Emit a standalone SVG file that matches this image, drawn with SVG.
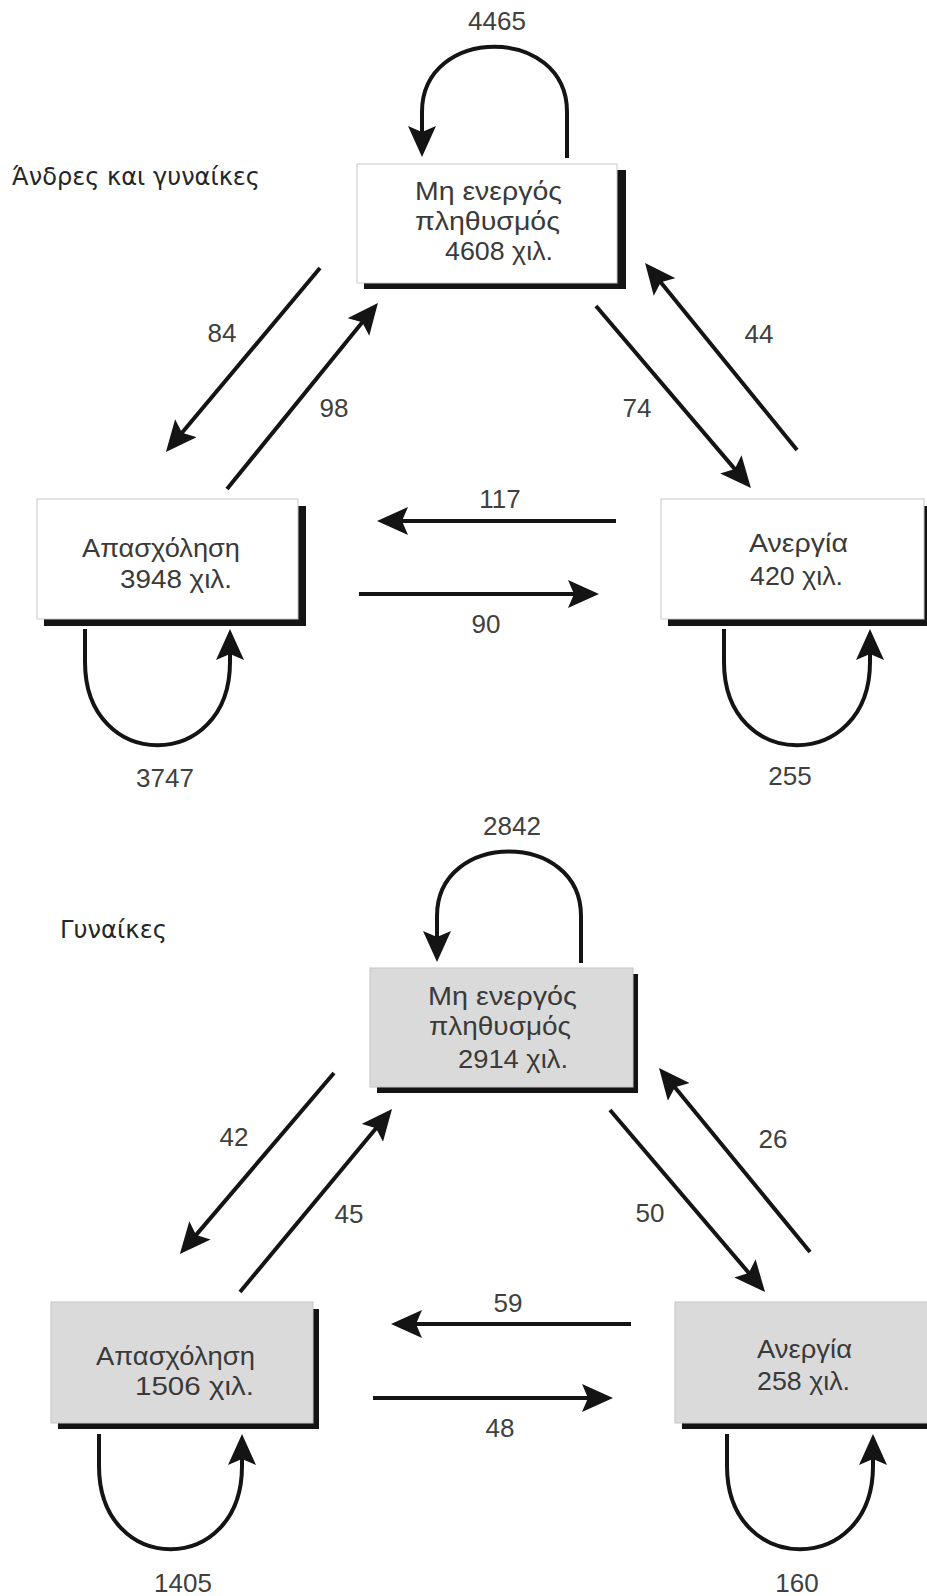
<svg xmlns="http://www.w3.org/2000/svg" width="927" height="1596" viewBox="0 0 927 1596">
<style>
.bg{fill:#ffffff}
.shadow{fill:#141414}
.boxw{fill:#ffffff;stroke:#c8c8c8;stroke-width:1}
.boxg{fill:#dadada;stroke:#c4c4c4;stroke-width:1}
.t{font-family:"Liberation Sans",Arial,sans-serif;font-size:25px;fill:#3a3a3a}
.lbl{font-family:"Liberation Sans",Arial,sans-serif;font-size:26px;fill:#404040;text-anchor:middle}
.title{font-family:"DejaVu Sans","Open Sans",sans-serif;font-size:24px;fill:#262626}
.c{fill:none;stroke:#141414;stroke-width:4;marker-end:url(#ah)}
</style>
<defs>
<marker id="ah" markerUnits="userSpaceOnUse" markerWidth="32" markerHeight="28" refX="20" refY="14" orient="auto" viewBox="0 0 32 28">
<path d="M0,0 L31,14 L0,28 L6,14 z" fill="#141414"/>
</marker>
</defs>
<rect class="bg" x="0" y="0" width="927" height="1596"/>

<text class="title" x="12" y="185" textLength="248" lengthAdjust="spacingAndGlyphs">Άνδρες και γυναίκες</text>
<text class="title" x="60" y="938" textLength="107" lengthAdjust="spacingAndGlyphs">Γυναίκες</text>

<g id="m-inactive">
<rect class="shadow" x="364" y="170" width="262" height="119"/>
<rect class="boxw" x="357" y="164" width="260" height="119"/>
<text class="t" x="415" y="200" textLength="147" lengthAdjust="spacingAndGlyphs">Μη ενεργός</text>
<text class="t" x="415" y="230" textLength="145" lengthAdjust="spacingAndGlyphs">πληθυσμός</text>
<text class="t" x="445" y="260" textLength="108" lengthAdjust="spacingAndGlyphs">4608 χιλ.</text>
</g>
<g id="m-employment">
<rect class="shadow" x="44" y="506" width="262" height="120"/>
<rect class="boxw" x="37" y="499" width="261" height="120"/>
<text class="t" x="82" y="557" textLength="158" lengthAdjust="spacingAndGlyphs">Απασχόληση</text>
<text class="t" x="120" y="588" textLength="112" lengthAdjust="spacingAndGlyphs">3948 χιλ.</text>
</g>
<g id="m-unemployment">
<rect class="shadow" x="668" y="506" width="263" height="120"/>
<rect class="boxw" x="661" y="499" width="263" height="120"/>
<text class="t" x="749" y="552" textLength="99" lengthAdjust="spacingAndGlyphs">Ανεργία</text>
<text class="t" x="750" y="585" textLength="93" lengthAdjust="spacingAndGlyphs">420 χιλ.</text>
</g>

<g id="w-inactive">
<rect class="shadow" x="377" y="974" width="261" height="119"/>
<rect class="boxg" x="370" y="968" width="263" height="119"/>
<text class="t" x="428" y="1005" textLength="149" lengthAdjust="spacingAndGlyphs">Μη ενεργός</text>
<text class="t" x="429" y="1035" textLength="142" lengthAdjust="spacingAndGlyphs">πληθυσμός</text>
<text class="t" x="458" y="1068" textLength="110" lengthAdjust="spacingAndGlyphs">2914 χιλ.</text>
</g>
<g id="w-employment">
<rect class="shadow" x="58" y="1309" width="261" height="120"/>
<rect class="boxg" x="51" y="1302" width="262" height="121"/>
<text class="t" x="96" y="1365" textLength="159" lengthAdjust="spacingAndGlyphs">Απασχόληση</text>
<text class="t" x="135" y="1395" textLength="119" lengthAdjust="spacingAndGlyphs">1506 χιλ.</text>
</g>
<g id="w-unemployment">
<rect class="shadow" x="682" y="1309" width="262" height="120"/>
<rect class="boxg" x="675" y="1302" width="262" height="121"/>
<text class="t" x="757" y="1358" textLength="95" lengthAdjust="spacingAndGlyphs">Ανεργία</text>
<text class="t" x="757" y="1390" textLength="93" lengthAdjust="spacingAndGlyphs">258 χιλ.</text>
</g>

<g id="connectors">
<path class="c" d="M567,158 L567,112 C567,25 422,25 422,112 L422,146"/>
<path class="c" d="M85,629 L85,662 C85,773 230,773 230,662 L230,640"/>
<path class="c" d="M724,629 L724,662 C724,773 870,773 870,662 L870,640"/>
<path class="c" d="M320,268 L173,443.5"/>
<path class="c" d="M227,489 L371,311.5"/>
<path class="c" d="M596,306 L743.8,479.6"/>
<path class="c" d="M797,450 L652,271.5"/>
<path class="c" d="M616,521 L388,521"/>
<path class="c" d="M359,594 L588,594"/>

<path class="c" d="M581,963 L581,916 C581,830 437,830 437,916 L437,951"/>
<path class="c" d="M99,1434 L99,1466 C99,1577 242,1577 242,1466 L242,1445"/>
<path class="c" d="M727,1434 L727,1466 C727,1577 873,1577 873,1466 L873,1445"/>
<path class="c" d="M334,1073 L187,1245.6"/>
<path class="c" d="M240,1292 L385,1117.5"/>
<path class="c" d="M610,1110 L757.9,1283.6"/>
<path class="c" d="M810,1252 L666,1076.5"/>
<path class="c" d="M631,1324 L402,1324"/>
<path class="c" d="M373,1398 L602,1398"/>
</g>

<g id="labels">
<text class="lbl" x="497" y="30">4465</text>
<text class="lbl" x="222" y="342">84</text>
<text class="lbl" x="334" y="417">98</text>
<text class="lbl" x="637" y="417">74</text>
<text class="lbl" x="759" y="343">44</text>
<text class="lbl" x="500" y="508">117</text>
<text class="lbl" x="486" y="633">90</text>
<text class="lbl" x="165" y="787">3747</text>
<text class="lbl" x="790" y="785">255</text>

<text class="lbl" x="512" y="835">2842</text>
<text class="lbl" x="234" y="1146">42</text>
<text class="lbl" x="349" y="1223">45</text>
<text class="lbl" x="650" y="1222">50</text>
<text class="lbl" x="773" y="1148">26</text>
<text class="lbl" x="508" y="1312">59</text>
<text class="lbl" x="500" y="1437">48</text>
<text class="lbl" x="183" y="1592">1405</text>
<text class="lbl" x="797" y="1592">160</text>
</g>
</svg>
